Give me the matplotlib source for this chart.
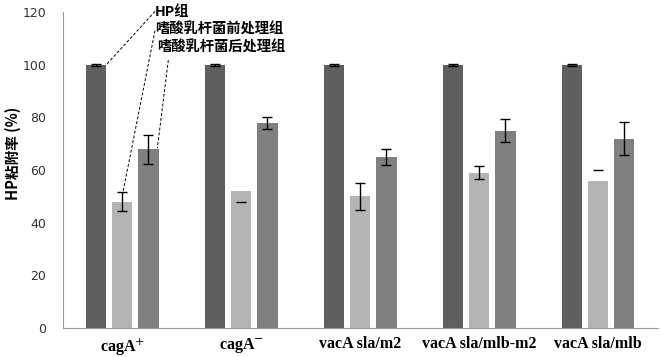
import numpy as np
import matplotlib.pyplot as plt

groups = ["cagA$^{+}$", "cagA$^{-}$", "vacA sla/m2", "vacA sla/mlb-m2", "vacA sla/mlb"]
series = ["HP组", "嗜酸乳杆菌前处理组", "嗜酸乳杆菌后处理组"]
hp = [100, 100, 100, 100, 100]
hp_err = [0.3, 0.3, 0.3, 0.3, 0.3]
pre = [48, 52, 50, 59, 56]
pre_err_lo = [3.4, 4.0, 5.0, 2.5, 0]
pre_err_hi = [3.6, 0, 5.0, 2.5, 4.2]
post = [68, 78, 65, 75, 72]
post_err = [5.5, 2.3, 3.0, 4.3, 6.3]

colors = ["#5f5f5f", "#b4b4b4", "#808080"]

fig = plt.figure(figsize=(6.61, 3.57), dpi=100)
ax = fig.add_axes([0.095, 0.081, 0.90, 0.885])

x = np.arange(len(groups))
w = 0.17
off = 0.22
ekw = dict(fmt="none", ecolor="black", elinewidth=1, capsize=3.5, capthick=1)

ax.bar(x - off, hp, w, color=colors[0], zorder=2)
ax.errorbar(x - off, hp, yerr=hp_err, **ekw, zorder=3)
ax.bar(x, pre, w, color=colors[1], zorder=2)
pre_arr = np.array(pre)
lo = np.array(pre_err_lo)
hi = np.array(pre_err_hi)
# error bars: where one side is missing, only the cap of the other side shows
both = (lo > 0) & (hi > 0)
ax.errorbar(x[both], pre_arr[both], yerr=[lo[both], hi[both]], **ekw, zorder=3)
only_lo = (lo > 0) & (hi == 0)
ax.plot(x[only_lo], (pre_arr - lo)[only_lo], "_", color="black", ms=7, mew=1, zorder=3)
only_hi = (hi > 0) & (lo == 0)
ax.plot(x[only_hi], (pre_arr + hi)[only_hi], "_", color="black", ms=7, mew=1, zorder=3)
ax.bar(x + off, post, w, color=colors[2], zorder=2)
ax.errorbar(x + off, post, yerr=post_err, **ekw, zorder=3)

ax.set_xlim(-0.5, 4.5)
ax.set_ylim(0, 120)
ax.set_yticks(range(0, 121, 20))
ax.tick_params(axis="y", length=0, pad=12, labelsize=9, labelcolor="#333333")
ax.tick_params(axis="x", length=0, pad=6)
ax.set_xticks(x)
ax.set_xticklabels(groups, fontfamily="Liberation Serif", fontweight="bold", fontsize=11.5)
for s in ["top", "right"]:
    ax.spines[s].set_visible(False)
for s in ["left", "bottom"]:
    ax.spines[s].set_color("#999999")

cjk = ["Noto Sans CJK SC", "DejaVu Sans"]
ax.set_ylabel("HP粘附率 (%)", family=cjk, fontweight="bold", fontsize=10.5)
ax.yaxis.set_label_coords(-0.07, 0.554)

# legend-like labels with dashed leader lines
labels_pos = [(0.275, 120.2), (0.275, 113.2), (0.29, 106.5)]
line_from = [(0.275, 120.3), (0.275, 113.0), (0.387, 101.8)]
line_to = [(-0.135, 100), (0.005, 51.5), (0.295, 68.4)]
for name, p, a, b in zip(series, labels_pos, line_from, line_to):
    ax.text(p[0], p[1], name, family=cjk, fontweight="bold", fontsize=10.3,
            va="center", ha="left", clip_on=False)
    ax.plot([a[0], b[0]], [a[1], b[1]], color="black", lw=0.7, ls=(0, (3, 2)),
            clip_on=False, zorder=4)

fig.savefig("out.png", dpi=100)
